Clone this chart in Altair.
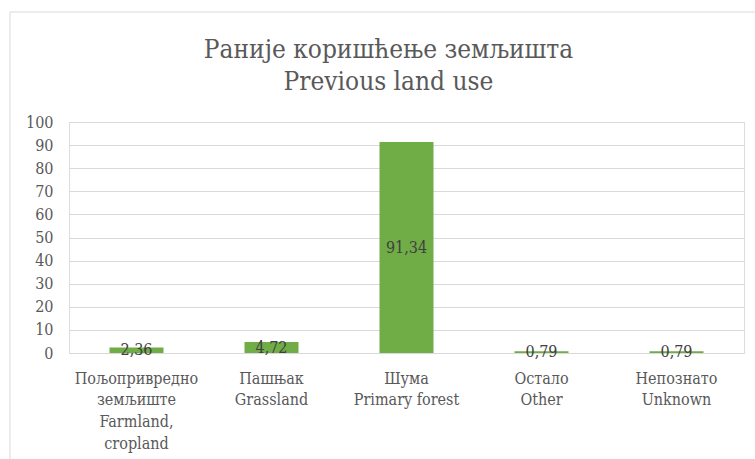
import altair as alt
import pandas as pd

categories = [
    "Пољопривредно|земљиште|Farmland,|cropland",
    "Пашњак|Grassland",
    "Шума|Primary forest",
    "Остало|Other",
    "Непознато|Unknown",
]
values = [2.36, 4.72, 91.34, 0.79, 0.79]
y_ticks = [0, 10, 20, 30, 40, 50, 60, 70, 80, 90, 100]

df = pd.DataFrame({"cat": categories, "value": values})

FONT = "DejaVu Serif Condensed"

base = alt.Chart(df)

x_axis = alt.Axis(
    labelAngle=0,
    labelExpr="split(datum.label, '|')",
    labelFont=FONT,
    labelFontSize=16,
    labelColor="#595959",
    labelLineHeight=21.7,
    labelPadding=17,
    labelLimit=300,
    ticks=False,
    domain=False,
)
y_axis = alt.Axis(
    values=y_ticks,
    labelFont=FONT,
    labelFontSize=16,
    labelColor="#595959",
    labelPadding=16,
    labelOverlap=False,
    ticks=False,
    domain=False,
    gridColor="#d9d9d9",
    gridWidth=1,
)
x_scale = alt.Scale(paddingInner=0.6, paddingOuter=0.3)
y_scale = alt.Scale(domain=[0, 100])

bars = base.mark_bar(color="#70AD47").encode(
    x=alt.X("cat:N", sort=None, title=None, scale=x_scale, axis=x_axis),
    y=alt.Y("value:Q", title=None, scale=y_scale, axis=y_axis, stack=None),
)

labels = (
    base.transform_calculate(
        mid="datum.value / 2",
        lbl="replace(format(datum.value, '.2f'), '.', ',')",
    )
    .mark_text(font=FONT, fontSize=16, color="#404040", baseline="middle")
    .encode(
        x=alt.X("cat:N", sort=None, title=None, scale=x_scale, axis=x_axis),
        y=alt.Y("mid:Q", title=None, scale=y_scale, axis=y_axis),
        text="lbl:N",
    )
)

frame = alt.Chart(pd.DataFrame({"a": [0]})).mark_rect(
    fill=None, stroke="#d9d9d9", strokeWidth=1
).encode(
    x=alt.value(-59), x2=alt.value(720), y=alt.value(-110), y2=alt.value(400)
)

chart = (
    alt.layer(bars, labels, frame)
    .properties(
        width=675,
        height=231,
        padding={"left": 69, "top": 122, "right": 11, "bottom": 106},
        autosize=alt.AutoSizeParams(type="none"),
        title=alt.TitleParams(
            ["Раније коришћење земљишта", "Previous land use"],
            font=FONT,
            fontSize=26,
            fontWeight="normal",
            color="#595959",
            lineHeight=32,
            anchor="middle",
            frame="group",
            dx=-18,
            offset=-83,
        ),
    )
    .configure_view(stroke=None)
    .configure(background="white")
)

chart.save("out.html", embed_options={"renderer": "svg", "actions": False})
